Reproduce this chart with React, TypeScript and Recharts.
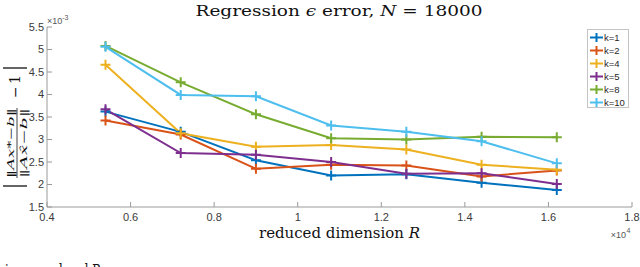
import { LineChart, Line, XAxis, YAxis, Legend } from 'recharts'

// reduced dimension R (x 1e4) and error values (x 1e-3)
const dims = [0.54, 0.72, 0.9, 1.08, 1.26, 1.44, 1.62]
const k1 = [3.62, 3.17, 2.54, 2.2, 2.23, 2.04, 1.88]
const k2 = [3.42, 3.11, 2.35, 2.44, 2.42, 2.18, 2.31]
const k4 = [4.66, 3.14, 2.84, 2.88, 2.78, 2.44, 2.33]
const k5 = [3.67, 2.7, 2.66, 2.5, 2.24, 2.25, 2.01]
const k8 = [5.08, 4.27, 3.56, 3.03, 3.0, 3.06, 3.05]
const k10 = [5.06, 3.99, 3.96, 3.31, 3.17, 2.96, 2.47]

const xTicks = [0.4, 0.6, 0.8, 1, 1.2, 1.4, 1.6, 1.8]
const yTicks = [1.5, 2, 2.5, 3, 3.5, 4, 4.5, 5, 5.5]

const SERIES = [
  { key: 'k=1', values: k1, color: '#0072BD' },
  { key: 'k=2', values: k2, color: '#D95319' },
  { key: 'k=4', values: k4, color: '#EDB120' },
  { key: 'k=5', values: k5, color: '#7E2F8E' },
  { key: 'k=8', values: k8, color: '#77AC30' },
  { key: 'k=10', values: k10, color: '#4DBEEE' },
]

const chartData = dims.map((d, i) => {
  const row: Record<string, number> = { R: d }
  for (const s of SERIES) row[s.key] = s.values[i]
  return row
})

const AXIS = '#9a9a9a'
const SANS = "'Liberation Sans', Arial, sans-serif"
const TICK = { fontSize: 11, fontFamily: SANS, fill: '#3a3a3a' }
const SERIF = "'DejaVu Serif', 'Liberation Serif', serif"

const fmt = (v: number) => String(Number(v.toFixed(1)))

function plusDot(color: string, half: number) {
  return (props: any) => {
    const { cx, cy, index } = props
    if (cx == null || cy == null) return <g key={index} />
    return (
      <path key={index} d={`M${cx - half},${cy}h${half * 2}M${cx},${cy - half}v${half * 2}`}
        stroke={color} strokeWidth={2} fill="none" />
    )
  }
}

function LegendBox() {
  return (
    <div style={{
      width: 40, height: 76, border: '1px solid #c4c4c4', background: '#fff',
      fontFamily: SANS, fontSize: 9.5, color: '#262626',
      paddingTop: 0.5, boxSizing: 'content-box',
    }}>
      {SERIES.map(s => (
        <div key={s.key} style={{ display: 'flex', alignItems: 'center', height: 13, lineHeight: '13px' }}>
          <svg width={16} height={13} style={{ display: 'block' }}>
            <path d="M2,6.5h13" stroke={s.color} strokeWidth={2} />
            <path d="M8.5,2v9" stroke={s.color} strokeWidth={2} />
          </svg>
          <span>{s.key}</span>
        </div>
      ))}
    </div>
  )
}

export default function App() {
  return (
    <div style={{ position: 'absolute', left: 0, top: 0, background: '#fff' }}>
      <LineChart width={640} height={267} data={chartData}
        margin={{ top: 27, right: 8, bottom: 0, left: 0 }}>
        <XAxis dataKey="R" type="number" domain={[0.4, 1.8]} ticks={xTicks}
          tickFormatter={fmt} height={60} tick={TICK}
          stroke={AXIS} tickSize={-5} tickMargin={11} allowDataOverflow />
        <YAxis type="number" domain={[1.5, 5.5]} ticks={yTicks}
          tickFormatter={fmt} width={47} tick={TICK}
          stroke={AXIS} tickSize={-5} tickMargin={8} allowDataOverflow />
        <Legend layout="vertical" align="center" verticalAlign="middle"
          wrapperStyle={{ position: 'absolute', left: 587, top: 29, width: 42, height: 78 }}
          content={() => <LegendBox />} />
        {SERIES.map(s => (
          <Line key={s.key} dataKey={s.key} stroke={s.color} strokeWidth={2}
            dot={plusDot(s.color, 5)} activeDot={false} isAnimationActive={false} />
        ))}

        <text x={339} y={16} textAnchor="middle" fontFamily={SERIF} fontSize={15.5}
          textLength={287} lengthAdjust="spacingAndGlyphs" fill="#111">
          Regression <tspan fontStyle="italic">ϵ</tspan> error, <tspan fontStyle="italic">N</tspan> = 18000
        </text>
        <text x={47} y={24} fontFamily={SANS} fontSize={9} fill="#555">
          ×10<tspan fontSize={7} dy={-4}>-3</tspan>
        </text>
        <text x={339.5} y={238} textAnchor="middle" fontFamily={SERIF} fontSize={14}
          textLength={161} lengthAdjust="spacingAndGlyphs" fill="#111">
          reduced dimension <tspan fontStyle="italic">R</tspan>
        </text>
        <text x={626} y={238} textAnchor="end" fontFamily={SANS} fontSize={9} fill="#555">
          ×10
        </text>
        <text x={626.5} y={233} fontFamily={SANS} fontSize={7} fill="#555">4</text>

        <g transform="translate(16,130) rotate(-90)" fontFamily={SERIF} fill="#111">
          <line x1={-56} y1={-13} x2={-56} y2={11} stroke="#111" strokeWidth={1.3} />
          <text x={-48} y={-2} fontSize={9.5} textLength={70} lengthAdjust="spacingAndGlyphs">
            ‖<tspan fontStyle="italic">Ax</tspan>*−<tspan fontStyle="italic">b</tspan>‖
          </text>
          <line x1={-48} y1={1} x2={22} y2={1} stroke="#111" strokeWidth={0.8} />
          <text x={-48} y={10.5} fontSize={9.5} textLength={70} lengthAdjust="spacingAndGlyphs">
            ‖<tspan fontStyle="italic">Ax̂</tspan>−<tspan fontStyle="italic">b</tspan>‖
          </text>
          <text x={32} y={4} fontSize={14}>−</text>
          <text x={46} y={4} fontSize={14}>1</text>
          <line x1={62} y1={-13} x2={62} y2={11} stroke="#111" strokeWidth={1.3} />
        </g>

        <text x={5} y={276} fontFamily={SERIF} fontSize={16} textLength={96}
          lengthAdjust="spacingAndGlyphs" fill="#111">
          increased and R
        </text>
      </LineChart>
    </div>
  )
}
